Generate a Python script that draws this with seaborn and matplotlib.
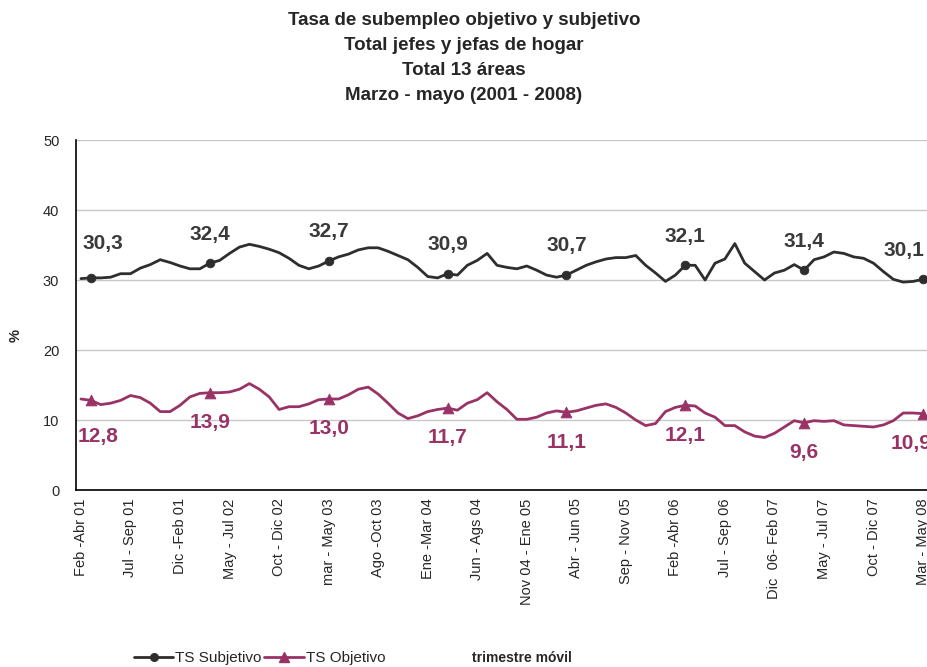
import numpy as np
import pandas as pd
import matplotlib
matplotlib.use('Agg')
import matplotlib.pyplot as plt
from matplotlib.lines import Line2D
import seaborn as sns

# Datos (trimestre movil, feb-abr 01 ... mar-may 08)
subjetivo = [30.2, 30.3, 30.3, 30.4, 30.9, 30.9, 31.7, 32.2, 32.9, 32.5,
             32.0, 31.6, 31.6, 32.4, 32.8, 33.8, 34.7, 35.1, 34.8, 34.4,
             33.9, 33.1, 32.1, 31.6, 32.0, 32.7, 33.3, 33.7, 34.3, 34.6,
             34.6, 34.1, 33.5, 32.9, 31.8, 30.5, 30.3, 30.9, 30.7, 32.1,
             32.8, 33.8, 32.1, 31.8, 31.6, 32.0, 31.4, 30.7, 30.4, 30.7,
             31.4, 32.1, 32.6, 33.0, 33.2, 33.2, 33.5, 32.1, 31.0, 29.8,
             30.7, 32.1, 32.1, 30.0, 32.4, 33.0, 35.2, 32.4, 31.2, 30.0,
             31.0, 31.4, 32.2, 31.4, 32.9, 33.3, 34.0, 33.8, 33.3, 33.1,
             32.4, 31.2, 30.1, 29.7, 29.8, 30.1]

objetivo = [13.0, 12.8, 12.2, 12.4, 12.8, 13.5, 13.2, 12.4, 11.2, 11.2,
            12.1, 13.3, 13.8, 13.9, 13.9, 14.0, 14.4, 15.2, 14.4, 13.3,
            11.5, 11.9, 11.9, 12.3, 12.9, 13.0, 13.0, 13.6, 14.4, 14.7,
            13.7, 12.4, 11.0, 10.2, 10.6, 11.2, 11.5, 11.7, 11.4, 12.4,
            12.9, 13.9, 12.6, 11.5, 10.1, 10.1, 10.4, 11.0, 11.3, 11.1,
            11.3, 11.7, 12.1, 12.3, 11.8, 11.0, 10.0, 9.2, 9.5, 11.2,
            11.8, 12.1, 12.0, 11.0, 10.4, 9.2, 9.2, 8.3, 7.7, 7.5,
            8.1, 9.0, 9.9, 9.6, 9.9, 9.8, 9.9, 9.3, 9.2, 9.1,
            9.0, 9.3, 9.9, 11.0, 11.0, 10.9]

# marcas en los trimestres marzo - mayo de cada año
idx_marzo_mayo = [1, 13, 25, 37, 49, 61, 73, 85]

etiquetas_x = ['Feb -Abr 01', 'Jul - Sep 01', 'Dic -Feb 01', 'May - Jul 02',
               'Oct - Dic 02', 'mar - May 03', 'Ago -Oct 03', 'Ene -Mar 04',
               'Jun - Ags 04', 'Nov 04 - Ene 05', 'Abr - Jun 05', 'Sep - Nov 05',
               'Feb -Abr 06', 'Jul - Sep 06', 'Dic  06- Feb 07', 'May - Jul 07',
               'Oct - Dic 07', 'Mar - May 08']

gris = '#2e2e2e'
morado = '#993366'

sns.set_style('white')
plt.rcParams['font.family'] = ['Liberation Sans', 'DejaVu Sans']

n = len(subjetivo)
df = pd.DataFrame({'t': np.arange(n), 'subj': subjetivo, 'obj': objetivo})
marcas = df.iloc[idx_marzo_mayo]

fig = plt.figure(figsize=(9.28, 6.67), dpi=100)
ax = fig.add_axes([76 / 928, 177 / 667, 852 / 928, 350 / 667])

sns.lineplot(data=df, x='t', y='subj', ax=ax, color=gris, lw=2.0)
sns.lineplot(data=df, x='t', y='obj', ax=ax, color=morado, lw=2.0)
sns.scatterplot(data=marcas, x='t', y='subj', ax=ax, color=gris, marker='o',
                s=40, edgecolor=gris, zorder=5, clip_on=False)
sns.scatterplot(data=marcas, x='t', y='obj', ax=ax, color=morado, marker='^',
                s=60, edgecolor=morado, zorder=5, clip_on=False)

# etiquetas de valores
for k, i in enumerate(idx_marzo_mayo):
    dx = 0
    dy_s, dy_o = 21, -21.5
    if k == 0:
        dx, dy_s, dy_o = 9, 25, -26
    if k == len(idx_marzo_mayo) - 1:
        dx = -14
    ax.annotate(f'{subjetivo[i]:.1f}'.replace('.', ','), (i, subjetivo[i]),
                xytext=(dx, dy_s), textcoords='offset points', ha='center',
                va='center', fontsize=15, fontweight='bold', color='#3a3a3a',
                annotation_clip=False)
    ax.annotate(f'{objetivo[i]:.1f}'.replace('.', ','), (i, objetivo[i]),
                xytext=(dx * 0.6, dy_o), textcoords='offset points', ha='center',
                va='center', fontsize=15, fontweight='bold', color=morado,
                annotation_clip=False)

ax.set_xlim(-0.5, -0.5 + 852 / 9.95)
ax.set_ylim(0, 50)
ax.set_yticks(range(0, 51, 10))
ax.yaxis.grid(True, color='#c8c8c8', lw=1)
ax.set_axisbelow(True)

ax.set_xticks(np.arange(0, n, 5))
ax.set_xticklabels(etiquetas_x, rotation=90, fontsize=10.5)
ax.set_xticks(np.arange(-0.5, n, 1), minor=True)
ax.tick_params(axis='x', which='major', length=0, pad=6)
ax.tick_params(axis='x', which='minor', length=4, width=1, color='black',
               direction='out')
ax.tick_params(axis='y', length=4, width=1, color='black', direction='out',
               labelsize=10.5, pad=8)

for s in ['top', 'right']:
    ax.spines[s].set_visible(False)
for s in ['left', 'bottom']:
    ax.spines[s].set_color('black')
    ax.spines[s].set_linewidth(1.2)

ax.set_xlabel('')
ax.set_ylabel('')
fig.text(16 / 928, 1 - 335 / 667, '%', rotation=90, ha='center', va='center',
         fontsize=10.5, fontweight='bold')

fig.text(0.5, 1 - 58 / 667,
         'Tasa de subempleo objetivo y subjetivo\nTotal jefes y jefas de hogar\n'
         'Total 13 áreas\nMarzo - mayo (2001 - 2008)',
         ha='center', va='center', fontsize=13.5, fontweight='bold',
         linespacing=1.6)

fig.text(522 / 928, 1 - 658 / 667, 'trimestre móvil', ha='center', va='center',
         fontsize=10, fontweight='bold')

handles = [Line2D([], [], color=gris, lw=2, marker='o', markersize=5.5),
           Line2D([], [], color=morado, lw=2, marker='^', markersize=7)]
fig.legend(handles, ['TS Subjetivo', 'TS Objetivo'], loc='center left',
           bbox_to_anchor=(120 / 928, 1 - 658 / 667), ncol=2, frameon=False,
           fontsize=11, handlelength=2.6, columnspacing=0.2, handletextpad=0.1)

fig.savefig('out.png', dpi=100)
